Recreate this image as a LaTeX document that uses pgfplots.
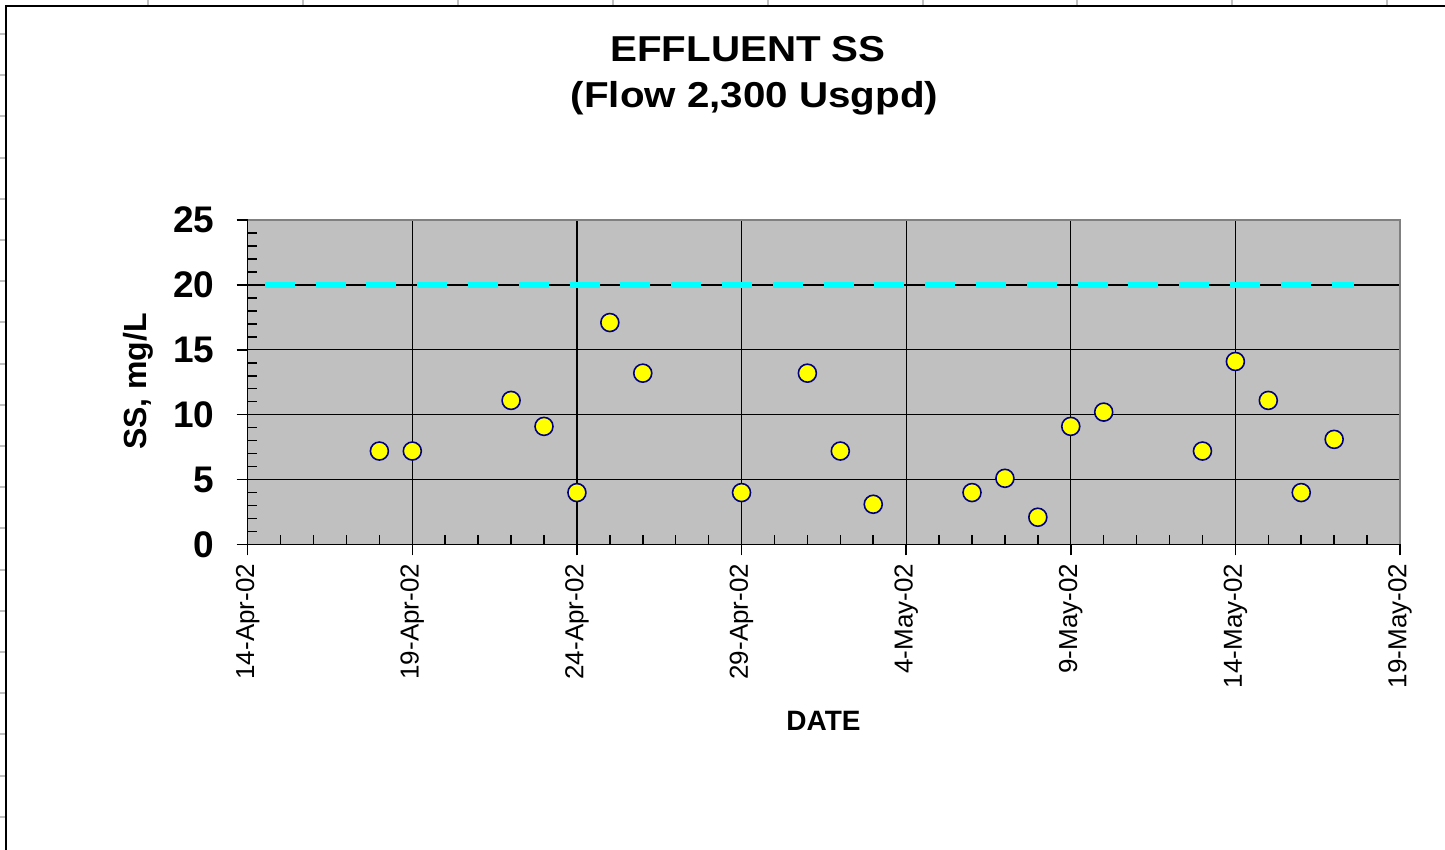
\documentclass[border=0pt]{standalone}
\usepackage{fontspec}
\setmainfont{Liberation Sans}
\usepackage{graphicx}
\usepackage{pgfplots}
\pgfplotsset{compat=1.18}

\definecolor{plotgray}{HTML}{C0C0C0}
\definecolor{bordergray}{HTML}{808080}
\definecolor{marknavy}{HTML}{000080}
\definecolor{limitcyan}{HTML}{00FFFF}
\definecolor{markyellow}{HTML}{FFFF00}

% days counted from 14-Apr-02
\pgfplotstableread{
day ss
4  7.2
5  7.2
8  11.1
9  9.1
10 4.0
11 17.1
12 13.2
15 4.0
17 13.2
18 7.2
19 3.1
22 4.0
23 5.1
24 2.1
25 9.1
26 10.2
29 7.2
30 14.1
31 11.1
32 4.0
33 8.1
}\ssdata

\begin{document}
\begin{tikzpicture}
\useasboundingbox (-123.85pt,-152.75pt) rectangle (598.65pt,272.25pt);
% spreadsheet cell stubs outside the chart frame
\foreach \yy in {34,75.2,...,830} {
  \draw[plotgray, line width=1pt] (-123.85pt,{(544.5-\yy)*0.5pt}) -- (-120.85pt,{(544.5-\yy)*0.5pt});
}
\foreach \xx in {148,302.9,...,1400} {
  \draw[plotgray, line width=1pt] ({(\xx-247.7)*0.5pt},272.25pt) -- ({(\xx-247.7)*0.5pt},269.25pt);
}
% chart area frame
\draw[line width=0.85pt] (-120.85pt,-160pt) -- (-120.85pt,269.25pt) -- (610pt,269.25pt);

\begin{axis}[
    at={(0pt,0pt)}, anchor=south west,
    scale only axis,
    width=576.15pt, height=162.25pt,
    xmin=0, xmax=35, ymin=0, ymax=25,
    axis background/.style={fill=plotgray},
    axis lines*=left,
    axis line style={-, line width=0.75pt},
    tick pos=left,
    tick align=outside,
    major tick length=5.5pt,
    minor tick length=-4.5pt,
    tick style={black, line width=0.75pt},
    xtick={0,5,...,35},
    xticklabels={14-Apr-02,19-Apr-02,24-Apr-02,29-Apr-02,4-May-02,9-May-02,14-May-02,19-May-02},
    ytick={0,5,...,25},
    minor x tick num=4,
    minor y tick num=4,
    grid=major,
    major grid style={black, line width=0.65pt},
    xticklabel style={rotate=90, anchor=east, inner sep=0pt, font=\fontsize{13}{13}\selectfont},
    yticklabel style={anchor=east, inner sep=0pt, font=\bfseries\fontsize{18.5}{18.5}\selectfont},
    xticklabel shift=4pt,
    yticklabel shift=11pt,
    /pgf/number format/assume math mode=true,
    clip=false,
]
\draw[bordergray, line width=1pt] (rel axis cs:0,1) -- (rel axis cs:1,1) -- (rel axis cs:1,0);
\addplot[limitcyan, line width=2.8pt, dash pattern=on 15pt off 10.4pt] coordinates {(0.52,20) (33.6,20)};
\addplot[only marks, mark=*, mark size=4.5pt,
         mark options={fill=markyellow, draw=marknavy, line width=0.8pt}]
    table[x=day, y=ss] {\ssdata};
\end{axis}

% titles and axis names
\node[anchor=base, font=\bfseries\fontsize{18}{18}\selectfont] at (250.15pt,241.25pt) {\scalebox{1.12}[1]{EFFLUENT SS}};
\node[anchor=base, font=\bfseries\fontsize{18}{18}\selectfont] at (253.4pt,218.5pt) {\scalebox{1.12}[1]{(Flow 2,300 Usgpd)}};
\node[anchor=base, rotate=90, font=\bfseries\fontsize{16}{16}\selectfont] at (-50.35pt,81.5pt) {SS, mg/L};
\node[anchor=base, font=\bfseries\fontsize{14}{14}\selectfont] at (287.9pt,-93.25pt) {DATE};
\end{tikzpicture}
\end{document}
